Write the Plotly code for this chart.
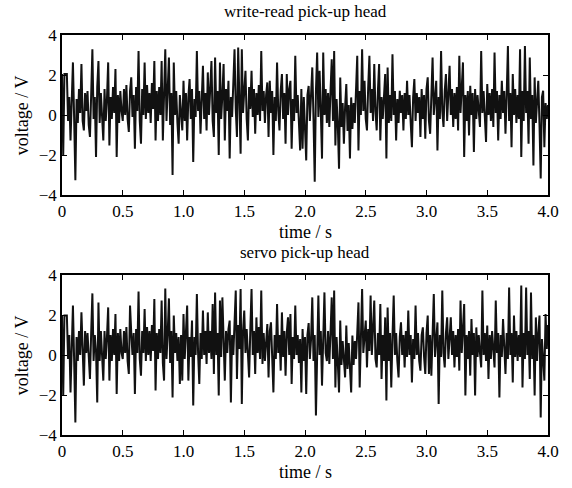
import numpy as np
import plotly.graph_objects as go

# sample interval of the recordings (s)
dt = 0.01

write_read_v = [
    2.05, -2.0, 2.05, 2.05, 2.05, -0.3, 0.9, -1.27, 1.2, 2.63,
    -0.2, -3.26, 0.8, -0.4, 1.3, 0.1, 2.55, -0.3, -0.77, 1.1,
    0.2, 1.2, -0.5, -1.1, 1.0, 3.29, -0.2, 0.9, -2.1, 1.4,
    2.7, -0.4, 1.1, 0.0, -1.27, 1.3, -0.3, 0.8, 2.63, -1.52,
    0.9, -0.2, 1.4, 0.1, 2.3, -2.1, 1.0, -0.4, 1.2, 0.2,
    -0.3, 1.3, 0.0, 1.5, -0.2, -0.85, 1.2, 1.88, -0.1, 1.0,
    -1.69, 1.4, 0.2, 3.2, -0.3, -1.44, 1.3, 0.0, 2.63, -0.2,
    1.5, 0.1, 1.1, -0.4, 1.6, 0.3, 2.7, -1.27, 1.2, -0.3,
    1.4, 0.0, 2.7, -1.27, 1.0, 3.29, -0.3, 1.2, 2.87, -0.5,
    1.1, -3.0, 2.63, 0.0, 1.2, -0.4, -1.44, 1.0, 0.2, -0.77,
    1.71, -0.3, 1.1, -1.27, 0.9, 1.8, -0.2, 1.3, -2.35, 0.8,
    -0.1, 3.2, 0.2, 1.2, -0.94, 1.0, 2.46, -0.2, 1.1, -0.77,
    2.13, 0.0, 1.3, 2.7, -0.3, -1.1, 2.87, 0.1, 1.2, -2.0,
    2.63, -0.2, 1.0, 2.55, -1.27, 1.3, 0.2, 1.71, -2.18, 0.9,
    -0.1, 1.5, 3.29, 0.3, -1.1, 3.37, 0.4, -1.94, 3.29, 0.1,
    1.2, 2.21, -0.2, -1.27, 1.4, 0.3, 2.21, -0.1, 1.3, -0.94,
    1.1, 0.0, 1.5, -0.3, 3.2, 0.2, 1.2, -0.4, 1.0, 1.63,
    -1.1, 1.71, 0.1, 1.2, -2.0, 0.9, -0.3, 2.63, 0.2, -0.77,
    1.2, 2.05, -0.2, 1.1, -1.44, 2.05, 0.0, 1.3, 1.71, -1.69,
    0.8, -0.3, 2.96, 0.1, 1.0, -0.5, -1.77, 1.3, -1.69, 0.9,
    -0.4, -2.27, 1.0, 1.45, -0.3, 0.9, 2.38, -0.2, -3.34, 1.2,
    3.12, -0.1, 2.21, 0.2, -2.18, 3.12, 0.0, 1.3, -0.4, 1.1,
    -0.6, 1.2, 2.79, -0.3, 3.2, -1.52, 0.8, -0.5, -2.69, 1.88,
    -0.6, 0.6, -1.44, 0.4, 1.55, -0.8, 0.5, -2.18, 0.88, -0.7,
    0.6, -0.4, 1.0, 2.96, -1.77, 1.2, 0.0, 3.29, 0.2, 1.71,
    -0.2, -0.77, 1.4, 2.96, 0.1, 1.3, -0.3, 2.55, 0.2, -0.77,
    1.2, 2.55, -1.27, 0.9, -0.2, 1.1, 2.05, -2.18, 2.38, -0.4,
    1.0, -0.3, 3.04, 0.0, 1.2, -1.27, 0.8, -0.4, 1.21, 0.1,
    1.0, -0.77, 1.1, -0.2, 1.71, 0.0, 1.0, -0.4, -1.61, 0.9,
    1.8, -0.3, 1.1, 0.1, 0.9, -1.1, 1.3, -0.2, 1.0, -1.19,
    1.3, 1.88, -0.3, -0.94, 1.2, 2.87, 0.0, 1.0, 1.71, -1.77,
    0.9, -0.2, 3.2, 0.2, -0.6, 1.2, 2.05, -0.3, 1.0, 2.46,
    0.0, 1.3, -0.6, 1.1, -0.2, 1.4, -0.77, 2.96, 0.1, 1.2,
    2.63, -2.1, 1.0, -0.3, 1.2, -1.02, 1.46, 0.0, 1.1, -1.85,
    1.3, -0.2, 1.0, 0.2, -0.6, 3.2, 0.1, 1.2, -0.3, -1.35,
    1.55, 0.0, 1.1, -0.3, 1.3, -0.6, 3.12, 0.1, 1.2, -1.27,
    1.0, -0.2, 1.71, 0.1, 1.2, -0.94, 1.0, 3.45, -0.3, 1.1,
    -1.61, 2.05, 0.0, 1.3, -0.4, 1.0, -0.2, 3.29, -2.1, 1.2,
    -0.3, 3.45, 0.1, 1.2, -1.44, 2.87, -0.2, 1.0, -2.52, 1.88,
    -0.4, 1.1, 1.71, -0.5, -3.18, 0.9, 1.21, -1.61, 0.6, -0.2,
    0.5,
]

servo_v = [
    1.97, -2.03, 1.97, 1.97, 1.97, -0.2, 1.0, -1.87, 1.1, 2.47,
    -0.3, -3.37, 0.9, -0.3, 1.2, 0.0, 2.13, -0.2, -1.53, 1.2,
    0.1, 1.1, -0.4, -1.2, 1.1, 3.08, -0.3, 1.0, 0.2, -2.37,
    2.63, -0.3, 1.2, 0.1, -1.28, 1.2, -0.2, 0.9, 2.38, -1.28,
    1.0, -0.3, 1.3, 0.0, 2.05, -1.95, 1.1, -0.3, 1.3, 0.1,
    -0.2, 1.2, 0.1, 1.4, -0.3, -0.95, 2.47, 1.1, 0.0, 1.1,
    -1.95, 1.3, 0.1, 3.17, -0.2, -1.03, 1.2, 0.1, 2.3, -0.3,
    1.4, 0.0, 1.2, -0.3, 1.5, 0.2, 2.8, -1.78, 1.1, -0.2,
    1.3, 0.1, 2.72, -0.4, -1.28, 3.33, -0.2, 1.1, 2.83, -0.4,
    1.2, -2.12, 1.97, 0.1, 1.1, -0.3, 0.9, -1.45, 1.0, -1.28,
    2.05, -0.2, 1.0, 2.47, -1.28, 0.9, -0.1, 1.72, -2.53, 0.9,
    0.0, 3.05, 0.1, -1.45, 1.1, -0.2, 2.22, 0.0, 1.2, -0.45,
    2.13, 0.1, 1.2, -0.2, 2.55, -0.95, 3.13, 0.0, 1.1, -2.03,
    2.72, -0.1, 2.88, 0.2, -1.28, 1.2, 0.1, 1.3, 1.72, -2.37,
    1.0, 0.0, 1.4, 3.22, -1.2, 1.5, 0.3, 3.3, -2.45, 1.2,
    2.22, 0.1, 1.3, -0.2, -1.12, 1.3, 3.3, 0.0, 1.2, -0.95,
    1.88, 0.1, 1.4, -0.2, 3.22, -0.45, 1.1, -0.3, 1.0, 1.55,
    -1.12, 1.2, 1.63, 0.0, -1.87, 1.0, -0.2, 2.55, 0.1, 1.0,
    -0.78, 2.13, -0.1, 1.2, -1.03, 1.1, 1.88, 0.0, 2.05, -1.45,
    0.9, -0.2, 2.47, 0.0, 1.0, -0.4, 0.8, -1.87, 1.3, -0.3,
    0.9, -1.95, 1.0, 1.6, -0.2, 0.8, 2.88, -0.3, 1.0, -3.03,
    1.1, 2.97, 0.0, 1.2, -1.53, 1.0, 3.13, 0.1, -0.3, 1.2,
    -0.45, 1.1, 2.88, -0.2, 3.22, -1.62, 0.9, -0.4, -1.87, 1.72,
    -0.5, 0.7, -0.6, -1.12, 1.47, -0.7, 0.6, -0.5, -1.87, 0.97,
    -0.5, 0.7, -0.2, 1.1, 2.63, -1.62, 1.1, 3.3, 0.1, 1.2,
    1.72, -0.62, 1.3, 0.2, 2.97, 0.0, 1.2, 2.72, -0.2, -0.62,
    1.1, 0.0, 2.55, -1.2, 1.0, -0.3, 1.88, -2.28, 2.38, -0.3,
    1.1, -1.62, 0.9, 2.97, 0.0, 1.1, -0.3, -1.12, 0.9, 1.63,
    0.0, 1.0, -0.62, 1.2, -0.1, 2.22, 0.0, 1.0, -1.37, 0.8,
    -0.2, 2.47, 0.0, 1.1, -0.3, -0.78, 1.0, 1.38, -0.1, -0.95,
    1.1, 1.97, -0.95, 1.0, -1.03, 1.2, 3.05, -0.1, 1.0, 1.63,
    -2.45, 1.0, -0.1, 3.22, 0.1, -0.62, 1.1, 1.88, -0.2, 1.0,
    1.88, 0.0, 1.2, -0.62, 1.0, -0.1, 1.3, -0.78, 2.72, 0.1,
    1.1, 2.55, -2.03, 1.0, -0.2, 1.2, -1.03, 1.8, 0.0, 1.1,
    -2.03, 1.38, -0.1, 1.0, 0.1, -0.62, 3.22, 0.0, 1.1, -0.3,
    1.47, -1.2, 1.0, -0.2, 1.2, 0.0, -0.62, 2.72, 0.1, 1.1,
    -2.12, 1.0, -0.1, 1.8, 0.0, -0.95, 1.1, -0.2, 3.38, 0.0,
    1.1, -1.37, 1.97, -0.1, 1.2, -0.3, 1.0, -0.1, 3.47, -1.62,
    1.1, -0.2, 3.38, 0.0, 1.2, -1.2, 3.13, -0.2, 1.0, -2.03,
    1.88, -0.3, 1.1, 1.97, -3.12, 0.8, -0.2, -1.28, 2.05, 0.3,
    1.5,
]

titles = ["write-read pick-up head", "servo pick-up head"]
x_label = "time / s"
y_label = "voltage / V"
x_tickvals = [0, 0.5, 1.0, 1.5, 2.0, 2.5, 3.0, 3.5, 4.0]
x_ticktext = ["0", "0.5", "1.0", "1.5", "2.0", "2.5", "3.0", "3.5", "4.0"]
y_tickvals = [-4, -2, 0, 2, 4]
y_ticktext = ["\u22124", "\u22122", "0", "2", "4"]

t_top = np.arange(len(write_read_v)) * dt
t_bot = np.arange(len(servo_v)) * dt

FONT = "Liberation Serif, Times New Roman, serif"

fig = go.Figure()
fig.add_trace(go.Scatter(x=t_top, y=write_read_v, mode="lines",
                         line=dict(color="#111111", width=2),
                         xaxis="x", yaxis="y", showlegend=False))
fig.add_trace(go.Scatter(x=t_bot, y=servo_v, mode="lines",
                         line=dict(color="#111111", width=2),
                         xaxis="x2", yaxis="y2", showlegend=False))

xcommon = dict(range=[0, 4], tickvals=x_tickvals, ticktext=x_ticktext,
               ticks="inside", ticklen=5, tickwidth=1, tickcolor="black",
               showline=True, linecolor="black", linewidth=1.5, mirror="ticks",
               showgrid=False, zeroline=False,
               tickfont=dict(family=FONT, size=17, color="black"))
ycommon = dict(range=[-4, 4], tickvals=y_tickvals, ticktext=y_ticktext,
               ticks="inside", ticklen=5, tickwidth=1, tickcolor="black",
               showline=True, linecolor="black", linewidth=1.5, mirror="ticks",
               showgrid=False, zeroline=False,
               tickfont=dict(family=FONT, size=17, color="black"))

fig.update_layout(
    width=572, height=488,
    margin=dict(l=62, r=24, t=35, b=53),
    paper_bgcolor="white", plot_bgcolor="white",
    xaxis=dict(domain=[0, 1], anchor="y", **xcommon),
    yaxis=dict(domain=[0.6, 1.0], anchor="x", **ycommon),
    xaxis2=dict(domain=[0, 1], anchor="y2", **xcommon),
    yaxis2=dict(domain=[0.0, 0.4], anchor="x2", **ycommon),
    font=dict(family=FONT, size=16, color="black"),
)

def label(text, x, y, size, angle=0):
    return dict(text=text, x=x, y=y, xref="paper", yref="paper",
                xanchor="center", yanchor="middle", textangle=angle,
                showarrow=False, font=dict(family=FONT, size=size, color="black"))

ann = [
    label(titles[0], 0.5, 1.0575, 17),
    label(titles[1], 0.5, 0.4575, 17),
    label(x_label, 0.5, 0.5075, 18),
    label(x_label, 0.5, -0.0925, 18),
    label(y_label, -0.082, 0.8, 18, -90),
    label(y_label, -0.082, 0.2, 18, -90),
]
fig.update_layout(annotations=ann)

fig.write_html("out.html", config={"displayModeBar": False},
               post_script="document.body.style.margin='0';")
